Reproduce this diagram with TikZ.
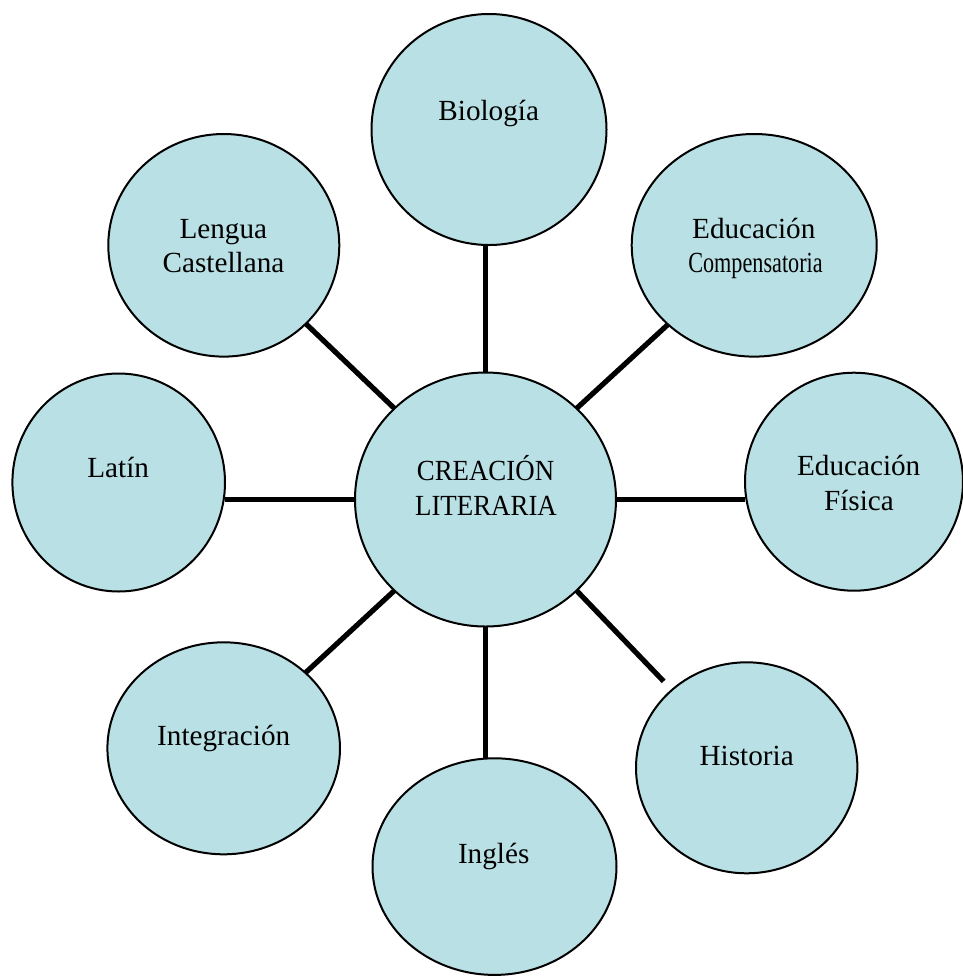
\documentclass[tikz,border=0pt]{standalone}
\usepackage{fontspec}
\setmainfont{Liberation Serif}
\usetikzlibrary{shapes.geometric}
\definecolor{bubble}{RGB}{185,224,228}
\begin{document}
\begin{tikzpicture}[x=0.5pt,y=-0.5pt,
  bub/.style={ellipse,draw=black,line width=1pt,fill=bubble,inner sep=0pt,outer sep=0pt},
  txt/.style={anchor=base,inner sep=0pt,font=\fontsize{14.6}{17}\selectfont},
  spoke/.style={line width=2.6pt,draw=black}]
\useasboundingbox (0,0) rectangle (963,976);
% nodes
\node[bub,minimum width=130.5pt,minimum height=127pt] (c) at (485.5,499.5) {};
\node[bub,minimum width=117.5pt,minimum height=115.5pt] (bio) at (489,129.5) {};
\node[bub,minimum width=122.5pt,minimum height=111.3pt] (edc) at (754.2,245.3) {};
\node[bub,minimum width=109pt,minimum height=109pt] (edf) at (854,481.7) {};
\node[bub,minimum width=110.7pt,minimum height=105.5pt] (his) at (746.7,767.8) {};
\node[bub,minimum width=122pt,minimum height=108.3pt] (ing) at (494.5,866.6) {};
\node[bub,minimum width=116.3pt,minimum height=106pt] (int) at (223.7,748.3) {};
\node[bub,minimum width=106.3pt,minimum height=109pt] (lat) at (118.7,482.5) {};
\node[bub,minimum width=115.5pt,minimum height=111.3pt] (len) at (223.8,245.3) {};
% connectors
\draw[spoke] (c.90) -- (c.90 |- bio.south);
\draw[spoke] (c.270) -- (c.270 |- ing.north);
\draw[spoke] (c.180) -- (lat.east |- c.180);
\draw[spoke] (c.0) -- (edf.west |- c.0);
\draw[spoke] (c.135) -- (len);
\draw[spoke] (c.45) -- (edc);
\draw[spoke,shorten >=6pt] (c.315) -- (his);
\draw[spoke] (c.225) -- (int);
% labels
\node[txt] (t-c1) at (485.5,480.7) {\scalebox{0.92}[1]{CREACIÓN}};
\node[txt] (t-c2) at (486,515) {\scalebox{0.92}[1]{LITERARIA}};
\node[txt] (t-bio) at (488.7,120) {Biología};
\node[txt] (t-edc1) at (753.8,238.3) {Educación};
\node[txt] (t-edc2) at (755.5,272.7) {\scalebox{0.76}[1]{Compensatoria}};
\node[txt] (t-edf1) at (858.7,475.7) {Educación};
\node[txt] (t-edf2) at (859,510) {Física};
\node[txt] (t-his) at (746.7,765) {Historia};
\node[txt] (t-ing) at (493.7,863.3) {Inglés};
\node[txt] (t-int) at (223.7,745) {Integración};
\node[txt] (t-lat) at (118.2,477.7) {Latín};
\node[txt] (t-len1) at (223.3,238.3) {Lengua};
\node[txt] (t-len2) at (223.5,272.3) {Castellana};
\end{tikzpicture}
\end{document}
